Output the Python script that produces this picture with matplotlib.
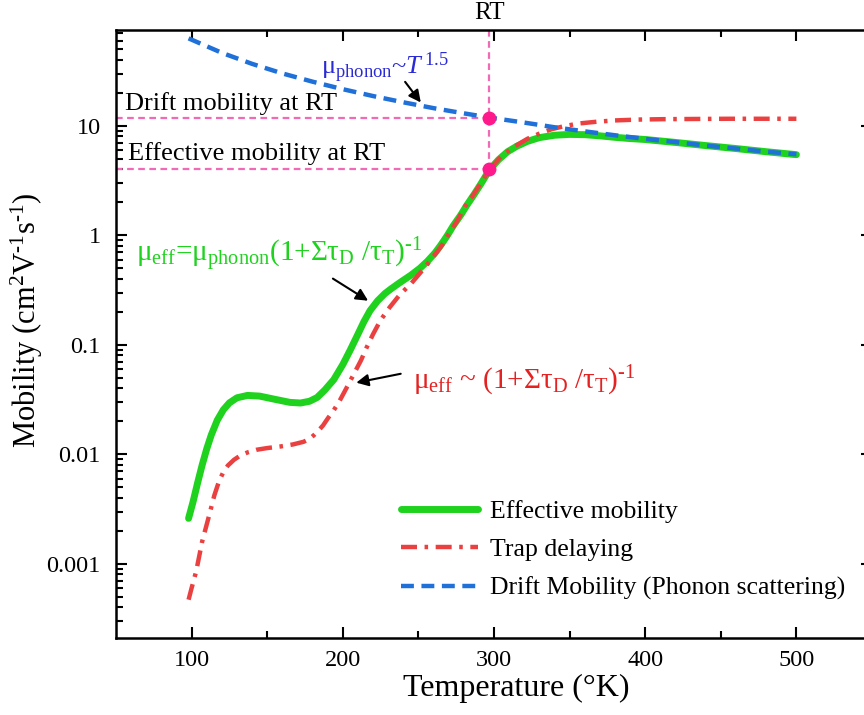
import matplotlib
matplotlib.use("Agg")
import matplotlib.pyplot as plt
from matplotlib.ticker import LogLocator, NullFormatter

plt.rcParams['font.family'] = ['Liberation Serif', 'DejaVu Serif']
plt.rcParams['mathtext.fontset'] = 'custom'
plt.rcParams['mathtext.rm'] = 'Liberation Serif'
plt.rcParams['mathtext.it'] = 'Liberation Serif:italic'
plt.rcParams['mathtext.bf'] = 'Liberation Serif:bold'

# temperature (K) and mobility (cm2/Vs)
T_eff = [98, 101, 104, 107, 110, 113, 117, 121, 125, 130, 137, 145, 155, 165, 172,
         178, 183, 188, 194, 200, 205, 210, 214, 218, 223, 228, 232, 238, 245, 251,
         256, 261, 265, 269, 273, 278, 282, 287, 291, 297, 303, 309, 315, 322, 330,
         340, 350, 360, 370, 380, 390, 400, 420, 440, 460, 480, 500]
mu_eff = [0.0026, 0.0037, 0.0055, 0.0080, 0.0112, 0.0150, 0.0205, 0.0255, 0.0295,
          0.0328, 0.0345, 0.0340, 0.0318, 0.0298, 0.0294, 0.0305, 0.0330, 0.0385,
          0.048, 0.066, 0.090, 0.125, 0.163, 0.205, 0.252, 0.295, 0.325, 0.372,
          0.432, 0.50, 0.58, 0.69, 0.82, 0.99, 1.22, 1.53, 1.88, 2.38, 2.9, 3.96,
          4.9, 5.8, 6.5, 7.2, 7.8, 8.2, 8.35, 8.3, 8.1, 7.85, 7.65, 7.5, 7.05, 6.6,
          6.2, 5.8, 5.45]

T_trap = [98, 100, 103, 107, 112, 115, 118, 121, 124, 128, 132, 137, 143, 150, 159,
          167, 174, 178, 181, 184, 187, 190, 194, 198, 201, 205, 209, 212, 216, 220,
          225, 231, 238, 245, 251, 258, 265, 270, 276, 281, 287, 292, 297, 305, 313,
          322, 331, 338, 346, 356, 368, 380, 395, 412, 456, 500]
mu_trap = [4.7e-4, 6.0e-4, 8.5e-4, 1.6e-3, 2.9e-3, 4.2e-3, 5.6e-3, 6.9e-3, 7.9e-3,
           8.9e-3, 9.7e-3, 0.0104, 0.0110, 0.0114, 0.0118, 0.0123, 0.0130, 0.0138,
           0.0150, 0.0165, 0.0184, 0.0212, 0.0252, 0.031, 0.037, 0.047, 0.060,
           0.072, 0.096, 0.125, 0.168, 0.22, 0.29, 0.36, 0.45, 0.59, 0.79, 1.02,
           1.38, 1.85, 2.42, 3.1, 4.0, 5.3, 6.4, 7.6, 8.6, 9.3, 9.9, 10.5, 10.9,
           11.2, 11.4, 11.5, 11.6, 11.6]

T_ph = [98, 120, 140, 160, 180, 200, 220, 240, 260, 280, 297, 320, 340, 360, 380,
        400, 420, 440, 460, 480, 500]
mu_ph = [62.9, 46.4, 36.8, 30.1, 25.3, 21.6, 18.7, 16.4, 14.5, 13.0, 11.9, 10.7, 9.7,
         8.9, 8.2, 7.6, 7.1, 6.6, 6.2, 5.8, 5.5]

T_rt = 297
mu_drift_rt = 11.8
mu_eff_rt = 4.0

green = '#1ed21e'
red = '#eb4040'
blue = '#1f70d8'
pink = '#f26ab5'

fig = plt.figure(figsize=(8.64, 7.15), dpi=100)
ax = fig.add_axes([116 / 864, 77 / 715, 756 / 864, 608 / 715])

ax.plot(T_eff, mu_eff, color=green, lw=5, solid_capstyle='round',
        label='Effective mobility', zorder=3)
ax.plot(T_trap, mu_trap, color=red, lw=3.2, dashes=(3.6, 1.7, 0.8, 1.7),
        label='Trap delaying', zorder=4)
ax.plot(T_ph, mu_ph, color=blue, lw=3.2, dashes=(2.9, 1.7),
        label='Drift Mobility (Phonon scattering)', zorder=5)

ax.set_yscale('log')
ax.set_xlim(50, 550)
ax.set_ylim(2.1e-4, 75)

# room temperature guides
ax.plot([50, T_rt], [mu_drift_rt, mu_drift_rt], color=pink, lw=1.6, dashes=(3, 2), zorder=2)
ax.plot([50, T_rt], [mu_eff_rt, mu_eff_rt], color=pink, lw=1.6, dashes=(3, 2), zorder=2)
ax.plot([T_rt, T_rt], [75, mu_eff_rt], color=pink, lw=1.6, dashes=(3, 2), zorder=2)
ax.plot([T_rt, T_rt], [mu_drift_rt, mu_eff_rt], 'o', color='#ff1a8c', ms=9, zorder=6)

ax.annotate('RT', xy=(T_rt, 1.0), xycoords=('data', 'axes fraction'),
            xytext=(0, 4), textcoords='offset points', ha='center', va='bottom',
            fontsize=18)

ax.text(55.7, 15.9, 'Drift mobility at RT', fontsize=19, ha='left', va='center')
ax.text(57.7, 5.55, 'Effective mobility at RT', fontsize=19, ha='left', va='center')

ax.text(185.3, 34, r'$\mathrm{μ_{phonon}}$~$T^{\,1.5}$', color='#2a2ad6',
        fontsize=19, ha='left', va='center')
ax.annotate('', xy=(252.7, 15.6), xytext=(240.1, 26.4),
            arrowprops=dict(arrowstyle='-|>', color='black', lw=1.5, mutation_scale=18))

ax.text(63.0, 0.66, r'$\mathrm{μ_{eff}}$=$\mathrm{μ_{phonon}}$(1+Σ$\mathrm{τ_D}$ /$\mathrm{τ_T}$)$^{‐1}$',
        color=green, fontsize=21, ha='left', va='center')
ax.annotate('', xy=(218.3, 0.245), xytext=(191.9, 0.415),
            arrowprops=dict(arrowstyle='-|>', color='black', lw=1.5, mutation_scale=18))

ax.text(246.1, 0.0465, r'$\mathrm{μ_{eff}}$ ~ (1+Σ$\mathrm{τ_D}$ /$\mathrm{τ_T}$)$^{‐1}$',
        color='#e42222', fontsize=21, ha='left', va='center')
ax.annotate('', xy=(207.1, 0.0446), xytext=(240.1, 0.055),
            arrowprops=dict(arrowstyle='-|>', color='black', lw=1.5, mutation_scale=18))

ax.set_xticks([100, 200, 300, 400, 500])
ax.set_xticks([150, 250, 350, 450], minor=True)
ax.set_yticks([0.001, 0.01, 0.1, 1, 10])
ax.set_yticklabels(['0.001', '0.01', '0.1', '1', '10'])
ax.yaxis.set_minor_locator(LogLocator(base=10, subs=range(2, 10), numticks=20))
ax.yaxis.set_minor_formatter(NullFormatter())

ax.tick_params(which='both', direction='in', top=True, right=True, width=1.5,
               labelsize=17.5)
ax.tick_params(axis='y', pad=11)
ax.tick_params(axis='x', pad=9)
ax.tick_params(which='major', length=8)
ax.tick_params(which='minor', length=4.8)
for s in ax.spines.values():
    s.set_linewidth(1.8)

ax.set_xlabel('Temperature (°K)', fontsize=23)
ax.set_ylabel(r'Mobility (cm$^2$V$^{‐1}$s$^{‐1}$)', fontsize=22)
ax.xaxis.set_label_coords((516 - 116) / 756, -(674 - 638) / 608)
ax.yaxis.set_label_coords((45 - 116) / 756, (638 - 320) / 608)

ax.legend(loc='upper left', bbox_to_anchor=(401 / 864, 1 - 500 / 715),
          bbox_transform=fig.transFigure, frameon=False, fontsize=18.5,
          handlelength=3.0, handletextpad=0.45, labelspacing=0.6, borderpad=0,
          borderaxespad=0)

fig.savefig('out.png', dpi=100)
